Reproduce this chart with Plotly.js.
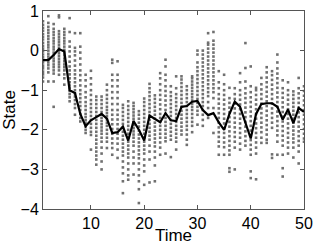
<!DOCTYPE html>
<html>
<head>
<meta charset="utf-8">
<script src="https://cdn.plot.ly/plotly-3.0.1.min.js"></script>
<style>html,body{margin:0;padding:0;background:#fff;}#chart{width:315px;height:245px;}</style>
</head>
<body>
<div id="chart"></div>
<script>
// Time steps
const timeSteps = [1,2,3,4,5,6,7,8,9,10,11,12,13,14,15,16,17,18,19,20,21,22,23,24,25,26,27,28,29,30,31,32,33,34,35,36,37,38,39,40,41,42,43,44,45,46,47,48,49,50];
// Estimated (mean) state, black line
const meanState = [-0.24,-0.24,-0.11,0.04,-0.02,-1.0,-1.07,-1.6,-1.91,-1.76,-1.68,-1.6,-1.72,-2.08,-2.06,-1.92,-2.27,-1.78,-2.0,-2.27,-1.64,-1.73,-1.81,-1.58,-1.76,-1.78,-1.42,-1.4,-1.29,-1.27,-1.5,-1.63,-1.58,-1.81,-2.0,-1.6,-1.29,-1.42,-1.8,-2.22,-1.6,-1.35,-1.33,-1.33,-1.42,-1.74,-1.49,-1.83,-1.45,-1.55];
// Particle states at each time step (grey dots), one row per time step
const particleStates = [
[0.74,0.65,0.57,0.5,0.42,0.35,0.28,0.2,0.12,0.05,-0.02,-0.1,-0.17,-0.24,-0.3,-0.38,-0.45,-0.53,-0.6,-0.68,-0.78],
[0.87,0.7,0.6,0.52,0.45,0.37,0.3,0.22,0.15,0.08,0.0,-0.08,-0.15,-0.22,-0.3,-0.37,-0.45,-0.55,-0.78],
[0.67,0.55,0.47,0.4,0.32,0.25,0.18,0.1,0.03,-0.05,-0.12,-0.2,-0.27,-0.35,-0.42,-0.5,-0.58,-0.78,-1.42],
[0.89,0.84,0.49,0.42,0.35,0.28,0.21,0.14,0.07,0.0,-0.07,-0.14,-0.21,-0.28,-0.35,-0.42,-0.5,-0.61],
[0.55,0.47,0.4,0.32,0.25,0.18,0.1,0.02,-0.05,-0.12,-0.2,-0.27,-0.35,-0.42,-0.5,-0.6,-0.7,-0.86],
[0.82,0.47,0.23,0.1,-0.02,-0.15,-0.28,-0.4,-0.5,-0.6,-0.7,-0.8,-0.88,-0.95,-1.02,-1.1,-1.18,-1.28],
[0.44,0.07,-0.02,-0.12,-0.25,-0.38,-0.5,-0.6,-0.7,-0.8,-0.9,-1.0,-1.08,-1.16,-1.25,-1.35,-1.45,-1.62],
[0.44,0.1,-0.05,-0.2,-0.35,-0.5,-0.62,-0.75,-0.88,-1.0,-1.1,-1.2,-1.3,-1.4,-1.5,-1.6,-1.7,-1.79],
[-0.61,-0.75,-0.9,-1.05,-1.18,-1.3,-1.4,-1.5,-1.6,-1.68,-1.76,-1.84,-1.92,-2.0,-2.08],
[-0.51,-0.7,-0.85,-1.0,-1.12,-1.25,-1.35,-1.45,-1.55,-1.65,-1.75,-1.85,-1.95,-2.05,-2.13,-2.5],
[-1.16,-1.25,-1.35,-1.45,-1.55,-1.65,-1.75,-1.85,-1.95,-2.05,-2.15,-2.25,-2.35,-2.45,-2.55,-2.65,-2.75,-2.88],
[-1.16,-1.25,-1.35,-1.45,-1.55,-1.62,-1.7,-1.78,-1.86,-1.94,-2.02,-2.1,-2.2,-2.3,-2.45,-2.6,-2.8,-3.0],
[-0.86,-1.0,-1.12,-1.22,-1.32,-1.42,-1.5,-1.58,-1.66,-1.74,-1.82,-1.9,-2.0,-2.1,-2.2,-2.3,-2.46],
[-0.23,-0.31,-0.61,-0.75,-0.9,-1.05,-1.2,-1.35,-1.5,-1.62,-1.74,-1.86,-1.98,-2.1,-2.22,-2.34,-2.46,-2.63],
[-0.27,-0.61,-0.75,-0.9,-1.05,-1.2,-1.35,-1.5,-1.62,-1.74,-1.86,-1.98,-2.1,-2.22,-2.35,-2.5,-2.71],
[-1.37,-1.45,-1.55,-1.65,-1.75,-1.85,-1.95,-2.05,-2.15,-2.25,-2.35,-2.45,-2.55,-2.65,-2.8,-2.95,-3.1,-3.3,-3.6],
[-1.28,-1.4,-1.5,-1.6,-1.7,-1.8,-1.9,-2.0,-2.1,-2.2,-2.3,-2.4,-2.5,-2.6,-2.7,-2.85,-3.0,-3.15,-3.26],
[-1.32,-1.4,-1.48,-1.56,-1.64,-1.72,-1.8,-1.88,-1.96,-2.04,-2.12,-2.2,-2.3,-2.4,-2.55,-2.7,-2.85,-3.13],
[-1.53,-1.62,-1.72,-1.82,-1.92,-2.02,-2.12,-2.22,-2.32,-2.42,-2.52,-2.62,-2.72,-2.85,-3.0,-3.15,-3.3,-3.5,-3.85],
[-1.21,-1.3,-1.4,-1.5,-1.6,-1.7,-1.8,-1.9,-2.0,-2.1,-2.2,-2.3,-2.4,-2.5,-2.6,-2.75,-2.9,-3.05,-3.39],
[-0.84,-0.95,-1.05,-1.15,-1.25,-1.35,-1.45,-1.55,-1.65,-1.75,-1.85,-1.95,-2.05,-2.15,-2.25,-2.4,-2.55,-2.75,-3.33],
[-1.13,-1.22,-1.32,-1.42,-1.52,-1.62,-1.72,-1.82,-1.92,-2.02,-2.12,-2.22,-2.32,-2.42,-2.55,-2.7,-2.9,-3.3],
[-0.57,-0.7,-0.85,-1.0,-1.12,-1.24,-1.36,-1.48,-1.6,-1.7,-1.8,-1.9,-2.0,-2.1,-2.2,-2.32,-2.45,-2.63],
[-0.23,-0.4,-0.61,-0.75,-0.9,-1.02,-1.14,-1.26,-1.38,-1.5,-1.6,-1.7,-1.8,-1.9,-2.0,-2.1,-2.2,-2.29,-2.6],
[-0.9,-1.05,-1.15,-1.25,-1.35,-1.45,-1.55,-1.65,-1.75,-1.85,-1.95,-2.05,-2.15,-2.25,-2.69],
[-0.65,-0.95,-1.1,-1.2,-1.3,-1.4,-1.5,-1.6,-1.7,-1.8,-1.9,-2.0,-2.1,-2.2,-2.3,-2.5],
[-0.65,-0.73,-0.82,-0.92,-1.02,-1.12,-1.22,-1.32,-1.42,-1.52,-1.62,-1.72,-1.82,-1.92,-2.02,-2.12],
[-0.9,-1.0,-1.1,-1.2,-1.3,-1.4,-1.5,-1.6,-1.7,-1.8,-1.9,-2.0,-2.12,-2.25,-2.38],
[-0.65,-0.7,-0.78,-0.86,-0.94,-1.02,-1.1,-1.18,-1.26,-1.34,-1.42,-1.5,-1.6,-1.7,-1.8,-1.9,-2.06],
[0.0,-0.1,-0.3,-0.42,-0.52,-0.62,-0.72,-0.82,-0.92,-1.02,-1.12,-1.22,-1.32,-1.42,-1.52,-1.62,-1.87],
[0.0,-0.1,-0.2,-0.3,-0.4,-0.5,-0.6,-0.7,-0.8,-0.9,-1.0,-1.1,-1.2,-1.3,-1.4,-1.5,-1.62,-1.75,-1.9],
[0.44,0.2,0.15,0.05,-0.05,-0.15,-0.25,-0.35,-0.45,-0.55,-0.65,-0.75,-0.85,-0.95,-1.05,-1.15,-1.3,-1.45,-1.7],
[0.47,0.25,0.15,0.05,-0.05,-0.15,-0.25,-0.35,-0.45,-0.55,-0.65,-0.75,-0.85,-0.95,-1.05,-1.2,-1.45,-2.08],
[-0.52,-0.8,-0.95,-1.1,-1.22,-1.34,-1.46,-1.58,-1.7,-1.82,-1.94,-2.06,-2.18,-2.3,-2.42,-2.63],
[-0.61,-0.85,-1.0,-1.12,-1.24,-1.36,-1.48,-1.6,-1.72,-1.84,-1.96,-2.08,-2.2,-2.32,-2.44,-2.63],
[-0.94,-1.2,-1.32,-1.44,-1.56,-1.68,-1.8,-1.92,-2.04,-2.16,-2.28,-2.4,-2.52,-2.63,-2.97,-3.06],
[-0.95,-1.1,-1.22,-1.34,-1.46,-1.58,-1.7,-1.82,-1.94,-2.06,-2.18,-2.3,-2.45,-3.0],
[-0.57,-0.8,-1.0,-1.12,-1.24,-1.36,-1.48,-1.6,-1.72,-1.84,-1.96,-2.08,-2.2,-2.35,-2.5],
[0.19,-0.44,-0.78,-0.95,-1.08,-1.2,-1.32,-1.44,-1.56,-1.68,-1.8,-1.92,-2.04,-2.16,-2.28,-2.4],
[-0.4,-0.9,-1.05,-1.18,-1.3,-1.42,-1.54,-1.66,-1.78,-1.9,-2.02,-2.14,-2.26,-2.38,-2.5,-2.63,-3.05,-3.22],
[-0.94,-1.0,-1.12,-1.24,-1.36,-1.48,-1.6,-1.72,-1.84,-1.96,-2.08,-2.2,-2.32,-2.45,-2.6,-3.25],
[-0.69,-0.85,-0.98,-1.1,-1.22,-1.34,-1.46,-1.58,-1.7,-1.82,-1.94,-2.06,-2.2,-2.33],
[-0.42,-0.55,-0.68,-0.8,-0.92,-1.04,-1.16,-1.28,-1.4,-1.52,-1.64,-1.76,-1.88,-2.0,-2.12,-2.25,-2.33],
[-0.52,-0.62,-0.74,-0.86,-0.98,-1.1,-1.22,-1.34,-1.46,-1.58,-1.7,-1.82,-1.95,-2.62,-2.71],
[-0.1,-0.3,-0.45,-0.58,-0.7,-0.82,-0.94,-1.06,-1.18,-1.3,-1.42,-1.54,-1.66,-1.78,-1.9,-2.02,-2.14,-2.3,-2.63],
[-0.75,-0.95,-1.07,-1.19,-1.31,-1.43,-1.55,-1.67,-1.79,-1.91,-2.03,-2.15,-2.27,-2.4,-2.63,-2.97,-3.18],
[-0.8,-1.0,-1.12,-1.24,-1.36,-1.48,-1.6,-1.72,-1.84,-1.96,-2.08,-2.2,-2.32,-2.45,-2.6],
[-1.03,-1.12,-1.22,-1.32,-1.42,-1.52,-1.62,-1.72,-1.82,-1.92,-2.02,-2.12,-2.22,-2.32,-2.45,-2.7],
[-0.69,-0.95,-1.08,-1.2,-1.32,-1.44,-1.56,-1.68,-1.8,-1.92,-2.04,-2.16,-2.28,-2.4,-2.55,-2.85],
[-0.9,-1.02,-1.14,-1.26,-1.38,-1.5,-1.62,-1.74,-1.86,-1.98,-2.1,-2.22,-2.3]
];
const xTickVals = [10,20,30,40,50];
const yTickVals = [-4,-3,-2,-1,0,1];
const xTitle = 'Time';
const yTitle = 'State';

const px = [], py = [];
particleStates.forEach((col, i) => {
  col.forEach(v => { px.push(timeSteps[i]); py.push(v); });
});

const fontFam = 'Liberation Sans, Arial, sans-serif';
const traces = [
  {x: px, y: py, type: 'scatter', mode: 'markers',
   marker: {color: '#707070', size: 2.6, symbol: 'square'}, hoverinfo: 'none'},
  {x: timeSteps, y: meanState, type: 'scatter', mode: 'lines',
   line: {color: '#000', width: 2.2}, hoverinfo: 'none'}
];

const axisCommon = {
  showgrid: false, zeroline: false, showline: true, mirror: 'ticks',
  linecolor: '#555', linewidth: 1, ticks: 'inside', ticklen: 4, tickcolor: '#555',
  tickfont: {family: fontFam, size: 16, color: '#000'}
};

const layout = {
  width: 315, height: 245,
  margin: {l: 43, r: 11, t: 11, b: 36},
  paper_bgcolor: '#fff', plot_bgcolor: '#fff',
  showlegend: false,
  xaxis: Object.assign({}, axisCommon, {
    range: [1, 50], tickvals: xTickVals, ticktext: xTickVals.map(String),
    title: {text: xTitle, font: {family: fontFam, size: 17, color: '#000'}, standoff: 0}
  }),
  yaxis: Object.assign({}, axisCommon, {
    range: [-4, 1], tickvals: yTickVals,
    title: {text: yTitle, font: {family: fontFam, size: 17, color: '#000'}, standoff: 2}
  })
};

Plotly.newPlot('chart', traces, layout, {staticPlot: true, displayModeBar: false});
</script>
</body>
</html>
